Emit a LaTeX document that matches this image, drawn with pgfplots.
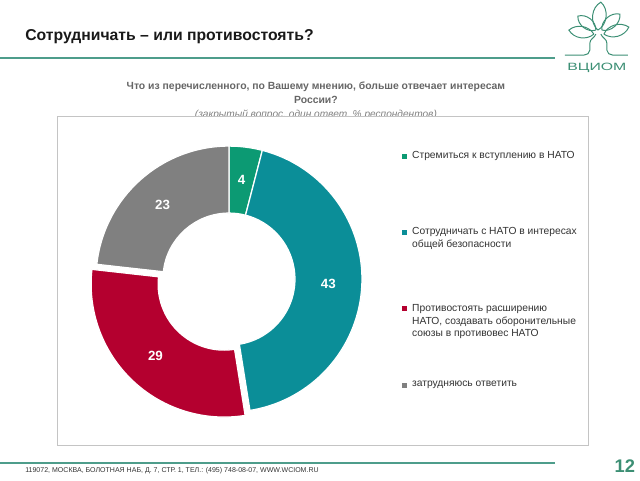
\documentclass[border=0pt]{standalone}
\usepackage{fontspec}
\setmainfont{Liberation Sans}
\usepackage{pgfplots}
\usepackage{pgfplotstable}
\pgfplotsset{compat=1.18}

\definecolor{cGreen}{HTML}{0C9A73}
\definecolor{cTeal}{HTML}{0B8E98}
\definecolor{cRed}{HTML}{B4002F}
\definecolor{cGray}{HTML}{808080}
\definecolor{ruleclr}{HTML}{4E9D8B}
\definecolor{logoclr}{HTML}{3C8F74}
\definecolor{frameclr}{HTML}{C4C4C4}

% share of respondents, %; explode = offset of the slice in px
\pgfplotstableread{
value col explode
4 cGreen 0
43 cTeal 0
29 cRed 7
23 cGray 0
}\donutdata

\newcommand\fs[1]{\fontsize{#1}{#1}\selectfont}

% build the donut sectors from the table (centre 229,201; radii 133 / 66)
\pgfplotstablegetrowsof{\donutdata}\pgfmathtruncatemacro\lastrow{\pgfplotsretval-1}
\gdef\tot{0}
\pgfplotstableforeachcolumnelement{value}\of\donutdata\as\sv{%
  \pgfmathsetmacro\tmp{\tot+\sv}\xdef\tot{\tmp}}
\gdef\acc{0}
\gdef\donutcmds{}
\foreach \i in {0,...,\lastrow}{%
  \pgfplotstablegetelem{\i}{value}\of\donutdata \let\sv\pgfplotsretval
  \pgfplotstablegetelem{\i}{col}\of\donutdata \let\slcol\pgfplotsretval
  \pgfplotstablegetelem{\i}{explode}\of\donutdata \let\se\pgfplotsretval
  \pgfmathsetmacro\aS{90-360*(\acc/\tot)}%
  \pgfmathsetmacro\aE{90-360*((\acc+\sv)/\tot)}%
  \pgfmathsetmacro\aM{(\aS+\aE)/2}%
  \pgfmathsetmacro\cx{229+\se*cos(\aM)}%
  \pgfmathsetmacro\cy{201+\se*sin(\aM)}%
  \pgfmathsetmacro\xa{\cx+133*cos(\aS)}%
  \pgfmathsetmacro\ya{\cy+133*sin(\aS)}%
  \pgfmathsetmacro\xb{\cx+66*cos(\aE)}%
  \pgfmathsetmacro\yb{\cy+66*sin(\aE)}%
  \pgfmathsetmacro\xl{\cx+99.5*cos(\aM)}%
  \pgfmathsetmacro\yl{\cy+99.5*sin(\aM)}%
  \xdef\donutcmds{\unexpanded\expandafter{\donutcmds}%
    \noexpand\fill[fill=\slcol, draw=white, line width=0.9pt]
      (axis cs:\xa,\ya) arc[start angle=\aS, end angle=\aE, radius=3.325cm]
      -- (axis cs:\xb,\yb) arc[start angle=\aE, end angle=\aS, radius=1.65cm] -- cycle;
    \noexpand\node[text=white, font=\noexpand\bfseries\noexpand\fs{9.5}] at (axis cs:\xl,\yl) {\sv};}%
  \pgfmathsetmacro\tmp{\acc+\sv}\xdef\acc{\tmp}%
}

\begin{document}
\begin{tikzpicture}
\path[use as bounding box] (0,0) rectangle (16cm,12cm);
\begin{axis}[
    x=0.025cm, y=0.025cm,
    xmin=0, xmax=640, ymin=0, ymax=480,
    hide axis, clip=false,
]
% header
\node[anchor=west, inner sep=0pt, font=\bfseries\fs{11.2}, text=black!90] at (axis cs:25,443) {Сотрудничать – или противостоять?};
\draw[ruleclr, line width=1.5pt] (axis cs:0,422) -- (axis cs:555,422);
% logo
\begin{scope}[logoclr, line width=0.7pt]
\draw (axis cs:598,450) to[bend left=55] (axis cs:601,478) to[bend left=55] (axis cs:598,450);
\draw (axis cs:596,450) to[bend left=55] (axis cs:578,464) to[bend left=55] (axis cs:596,450);
\draw (axis cs:602,450) to[bend right=55] (axis cs:620,466) to[bend right=55] (axis cs:602,450);
\draw (axis cs:594,446) to[bend right=50] (axis cs:569,450) to[bend right=50] (axis cs:594,446);
\draw (axis cs:604,446) to[bend left=50] (axis cs:629,453) to[bend left=50] (axis cs:604,446);
\draw (axis cs:596,446) to[out=-110,in=90] (axis cs:590,437) -- (axis cs:590,430) to[out=-90,in=0] (axis cs:584,425) -- (axis cs:565,425);
\draw (axis cs:601,446) to[out=-70,in=90] (axis cs:607,437) -- (axis cs:607,430) to[out=-90,in=180] (axis cs:613,425) -- (axis cs:628,425);
\end{scope}
\node[text=logoclr, font=\fs{7.5}, xscale=1.5] at (axis cs:597,412) {ВЦИОМ};
% question
\node[font=\bfseries\fs{7.4}, text=black!60] at (axis cs:316,393) {Что из перечисленного, по Вашему мнению, больше отвечает интересам};
\node[font=\bfseries\fs{7.4}, text=black!60] at (axis cs:316,380) {России?};
\node[font=\itshape\fs{7.2}, text=black!50] at (axis cs:316,365.5) {(закрытый вопрос, один ответ, \% респондентов)};
% frame
\draw[frameclr, fill=white, line width=0.6pt] (axis cs:57,35) rectangle (axis cs:589,364);
% legend
\fill[cGreen] (axis cs:402.5,321.5) rectangle (axis cs:407.5,326.5);
\fill[cTeal]  (axis cs:402.5,245.5) rectangle (axis cs:407.5,250.5);
\fill[cRed]   (axis cs:402.5,169.5) rectangle (axis cs:407.5,174.5);
\fill[cGray]  (axis cs:402.5,92.5)  rectangle (axis cs:407.5,97.5);
\begin{scope}[every node/.style={anchor=west, font=\fs{7.3}, text=black!80, inner sep=0pt}]
\node at (axis cs:412,324) {Стремиться к вступлению в НАТО};
\node at (axis cs:412,248) {Сотрудничать с НАТО в интересах};
\node at (axis cs:412,235) {общей безопасности};
\node at (axis cs:412,171.5) {Противостоять расширению};
\node at (axis cs:412,158.5) {НАТО, создавать оборонительные};
\node at (axis cs:412,146) {союзы в противовес НАТО};
\node at (axis cs:412,95) {затрудняюсь ответить};
\end{scope}
% footer
\draw[ruleclr, line width=1.5pt] (axis cs:0,17) -- (axis cs:555,17);
\node[anchor=west, font=\fs{5}, text=black!80, inner sep=0pt] at (axis cs:25,9) {119072, МОСКВА, БОЛОТНАЯ НАБ, Д. 7, СТР. 1, ТЕЛ.: (495) 748-08-07, WWW.WCIOM.RU};
\node[font=\bfseries\fs{13}, text=logoclr] at (axis cs:625,14) {12};
% donut
\donutcmds
\end{axis}
\end{tikzpicture}
\end{document}
